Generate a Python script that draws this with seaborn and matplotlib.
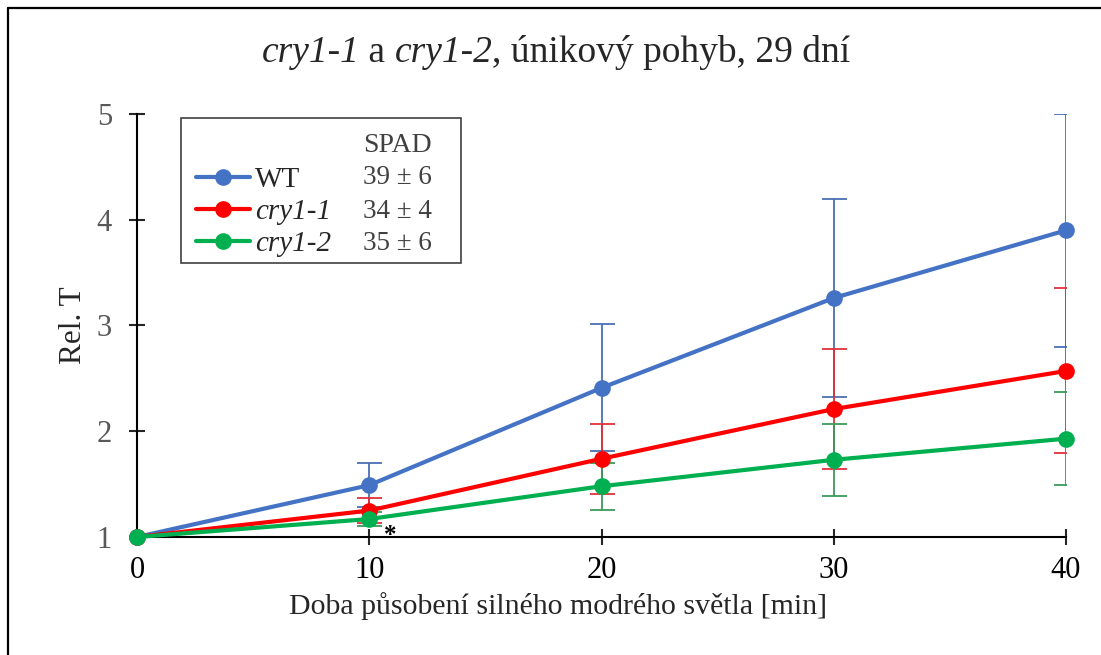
import matplotlib
matplotlib.use("Agg")
import matplotlib.pyplot as plt
import seaborn as sns
import pandas as pd
from matplotlib.lines import Line2D
from matplotlib.patches import Rectangle
from matplotlib.offsetbox import TextArea, HPacker, AnchoredOffsetbox

# ---- data ----
minutes = [0, 10, 20, 30, 40]
series_names = ["WT", "cry1-1", "cry1-2"]
wt_mean = [1.00, 1.49, 2.41, 3.26, 3.90]
wt_err = [0.00, 0.21, 0.60, 0.94, 1.10]
cry11_mean = [1.00, 1.25, 1.74, 2.21, 2.57]
cry11_err = [0.00, 0.12, 0.33, 0.57, 0.78]
cry12_mean = [1.00, 1.17, 1.48, 1.73, 1.93]
cry12_err = [0.00, 0.07, 0.22, 0.34, 0.44]
spad_labels = ["39 ± 6", "34 ± 4", "35 ± 6"]
x_ticks = [0, 10, 20, 30, 40]
y_ticks = [1, 2, 3, 4, 5]

colors = ["#4472C4", "#FF0000", "#00B050"]
err_colors = ["#4A6FB5", "#E0303A", "#3A9A5A"]

sns.set_theme(style="white")
plt.rcParams["font.family"] = ["Liberation Serif", "DejaVu Serif"]

W, H = 1101, 655
fig = plt.figure(figsize=(W / 100, H / 100), dpi=100)
ax = fig.add_axes([137 / W, 1 - 537 / H, (1066 - 137) / W, (537 - 114) / H])

means = [wt_mean, cry11_mean, cry12_mean]
errs = [wt_err, cry11_err, cry12_err]

df = pd.DataFrame({
    "min": minutes * 3,
    "val": wt_mean + cry11_mean + cry12_mean,
    "series": sum([[n] * len(minutes) for n in series_names], []),
})

# error bars
for i, (m, e) in enumerate(zip(means, errs)):
    ax.errorbar(minutes, m, yerr=e, fmt="none", ecolor=err_colors[i],
                elinewidth=1.3, capsize=9, capthick=1.3, zorder=2 + i * 0.1)

sns.lineplot(data=df, x="min", y="val", hue="series", hue_order=series_names,
             palette=colors, marker="o", markersize=12, markeredgewidth=0,
             linewidth=3.0, ax=ax, legend=False, zorder=4, clip_on=False)

ax.set_xlim(0, 40)
ax.set_ylim(1, 5)
ax.set_xticks(x_ticks)
ax.set_yticks(y_ticks)
ax.set_xticklabels([str(t) for t in x_ticks], fontsize=22, color="black")
ax.set_yticklabels([str(t) for t in y_ticks], fontsize=22, color="#595959")
ax.tick_params(axis="x", direction="inout", length=12, width=1.5, pad=8,
               bottom=True)
ax.tick_params(axis="y", direction="inout", length=12, width=1.5, pad=12,
               left=True)
for s in ["top", "right"]:
    ax.spines[s].set_visible(False)
for s in ["left", "bottom"]:
    ax.spines[s].set_color("black")
    ax.spines[s].set_linewidth(1.5)
    ax.spines[s].set_zorder(3)

ax.set_xlabel("Doba působení silného modrého světla [min]", fontsize=21.5,
              labelpad=2)
ax.xaxis.set_label_coords((558 - 137) / (1066 - 137), -0.13)
ax.set_ylabel("Rel. T", fontsize=22.5)
ax.yaxis.set_label_coords((88 - 137) / (1066 - 137), 0.5)

ax.text(10.9, 0.905, "*", fontsize=18, ha="center", va="bottom",
        color="black", fontweight="bold")

# title with mixed italic
parts = [("cry1-1", "italic"), (" a ", "normal"), ("cry1-2", "italic"),
         (", únikový pohyb, 29 dní", "normal")]
boxes = [TextArea(t, textprops=dict(fontsize=27, fontstyle=st,
                                     family="Liberation Serif"))
         for t, st in parts]
pack = HPacker(children=boxes, align="baseline", pad=0, sep=0)
title_box = AnchoredOffsetbox(loc="center", child=pack, frameon=False,
                              bbox_to_anchor=(556 / W, 1 - 53 / H),
                              bbox_transform=fig.transFigure, pad=0,
                              borderpad=0)
fig.add_artist(title_box)

# legend box
def ax_x(px):
    return (px - 137) / (1066 - 137)

def ax_y(py):
    return (537 - py) / (537 - 114)

ax.add_patch(Rectangle((ax_x(181), ax_y(263)), ax_x(461) - ax_x(181),
                       ax_y(118) - ax_y(263), transform=ax.transAxes,
                       facecolor="white", edgecolor="#404040", lw=1.2,
                       zorder=6, clip_on=False))
handles = [Line2D([], [], color=c, lw=3.0, marker="o", markersize=11)
           for c in colors]
leg = ax.legend(handles, series_names, loc="upper left",
                bbox_to_anchor=(ax_x(196), ax_y(167)), frameon=False,
                fontsize=21, handlelength=1.85, handletextpad=0.17,
                labelspacing=0.19, borderpad=0, borderaxespad=0)
leg.set_zorder(7)
for t, st in zip(leg.get_texts(), ["normal", "italic", "italic"]):
    t.set_fontstyle(st)
ax.text(ax_x(363), ax_y(145), "SPAD", transform=ax.transAxes, fontsize=20,
        color="#404040", va="center", ha="left", zorder=8)
for py, lab in zip([178, 211, 244], spad_labels):
    ax.text(ax_x(363), ax_y(py), lab, transform=ax.transAxes, fontsize=19.5,
            color="#404040", va="center", ha="left", zorder=8)

# chart area border (top and left)
fig.add_artist(Line2D([8 / W, 1], [1 - 8 / H, 1 - 8 / H], color="black",
                      lw=1.6, transform=fig.transFigure))
fig.add_artist(Line2D([8 / W, 8 / W], [0, 1 - 8 / H], color="black",
                      lw=1.6, transform=fig.transFigure))

fig.savefig("out.png", dpi=100)
